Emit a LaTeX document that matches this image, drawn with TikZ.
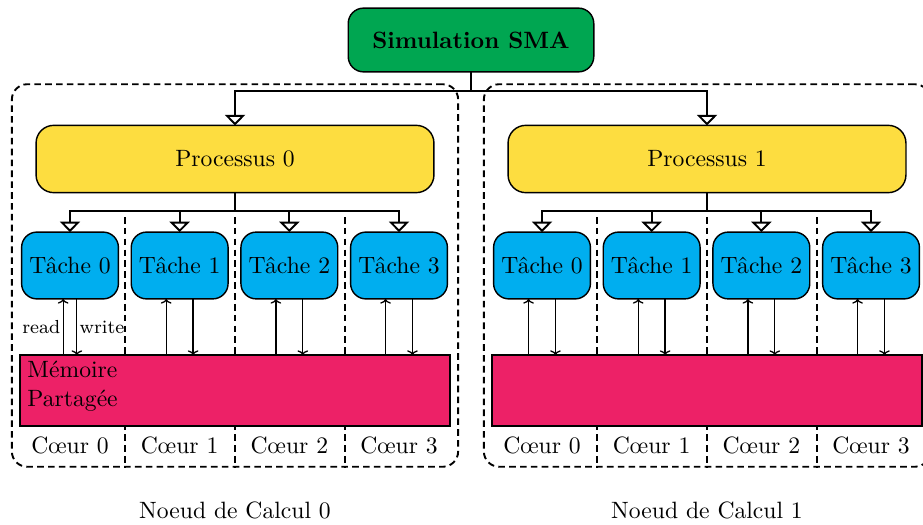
\documentclass[tikz,border=0pt]{standalone}
\usetikzlibrary{arrows.meta}
\definecolor{simgreen}{RGB}{0,166,81}
\definecolor{procyellow}{RGB}{253,221,64}
\definecolor{taskblue}{RGB}{0,174,239}
\definecolor{memred}{RGB}{237,33,103}
\tikzset{
  simbox/.style={draw, fill=simgreen, rounded corners=6.5pt, semithick, inner sep=0pt, outer sep=0pt,
    minimum width=104pt, minimum height=27pt, font=\bfseries},
  procbox/.style={draw, fill=procyellow, rounded corners=7.5pt, semithick, inner sep=0pt, outer sep=0pt,
    minimum width=168.5pt, minimum height=28.5pt},
  taskbox/.style={draw, fill=taskblue, rounded corners=6.5pt, semithick, inner sep=0pt, outer sep=0pt,
    minimum width=41pt, minimum height=28.3pt},
  membox/.style={draw, fill=memred, semithick, inner sep=0pt, outer sep=0pt,
    minimum width=182pt, minimum height=30pt},
  nodeframe/.style={draw, dash pattern=on 2.8pt off 1.8pt, thick, rounded corners=6.5pt, inner sep=0pt,
    minimum width=189pt, minimum height=162pt},
  sepline/.style={dash pattern=on 2.8pt off 1.8pt, thick},
  treearrow/.style={thick, -{Triangle[open,width=8.5pt,length=4.4pt]}},
  treeline/.style={line width=0.9pt},
  rwarrow/.style={line width=0.55pt, -{To[length=2pt,width=4.5pt]}},
  rwlabel/.style={font=\footnotesize, inner sep=1pt},
}
\begin{document}
\begin{tikzpicture}[x=0.4235pt,y=-0.4235pt]
\clip (0,0) rectangle (923,525);
\useasboundingbox (0,0) rectangle (923,525);

\node[simbox] (sim) at (471,40) {Simulation SMA};
\coordinate (sj) at (471,91);

\foreach \k/\o in {0/0,1/472}{
  \node[nodeframe] (frame\k) at (235+\o,275.5) {};
  \foreach \s in {125,235,345}{
    \draw[sepline] (\s+\o,217) -- (\s+\o,467);
  }
  \node[procbox] (p\k) at (235+\o,159) {Processus \k};
  \coordinate (pj\k) at (235+\o,211);
  \draw[treeline] (p\k.south) -- (pj\k);
  \node[membox] (m\k) at (235+\o,390.5) {};
  \foreach \i in {0,1,2,3}{
    \pgfmathsetmacro{\tx}{70+109.67*\i+\o}
    \pgfmathsetmacro{\dx}{(\k==0 && \i==0) ? 2.9 : 5.7}
    \node[taskbox] (t\k\i) at (\tx,265.5) {Tâche \i};
    \draw[treearrow] (pj\k) -| (t\k\i.north);
    \node (c\k\i) at (\tx,445) {Cœur \i};
    \draw[rwarrow] ([xshift=-\dx pt]t\k\i.south |- m\k.north) -- ([xshift=-\dx pt]t\k\i.south);
    \draw[rwarrow] ([xshift=\dx pt]t\k\i.south) -- ([xshift=\dx pt]t\k\i.south |- m\k.north);
  }
  \node (n\k) at (235+\o,510) {Noeud de Calcul \k};
}

\node[anchor=north west, align=left, inner sep=0pt] (memtext) at (27,361) {Mémoire\\Partagée};
\node[rwlabel, anchor=east] (rd) at ([xshift=-2.9pt,yshift=-12pt]t00.south) {read};
\node[rwlabel, anchor=west] (wr) at ([xshift=2.9pt,yshift=-12pt]t00.south) {write};

\draw[treeline] (sim.south) -- (sj);
\draw[treearrow] (sj) -| (p0.north);
\draw[treearrow] (sj) -| (p1.north);
\end{tikzpicture}
\end{document}
